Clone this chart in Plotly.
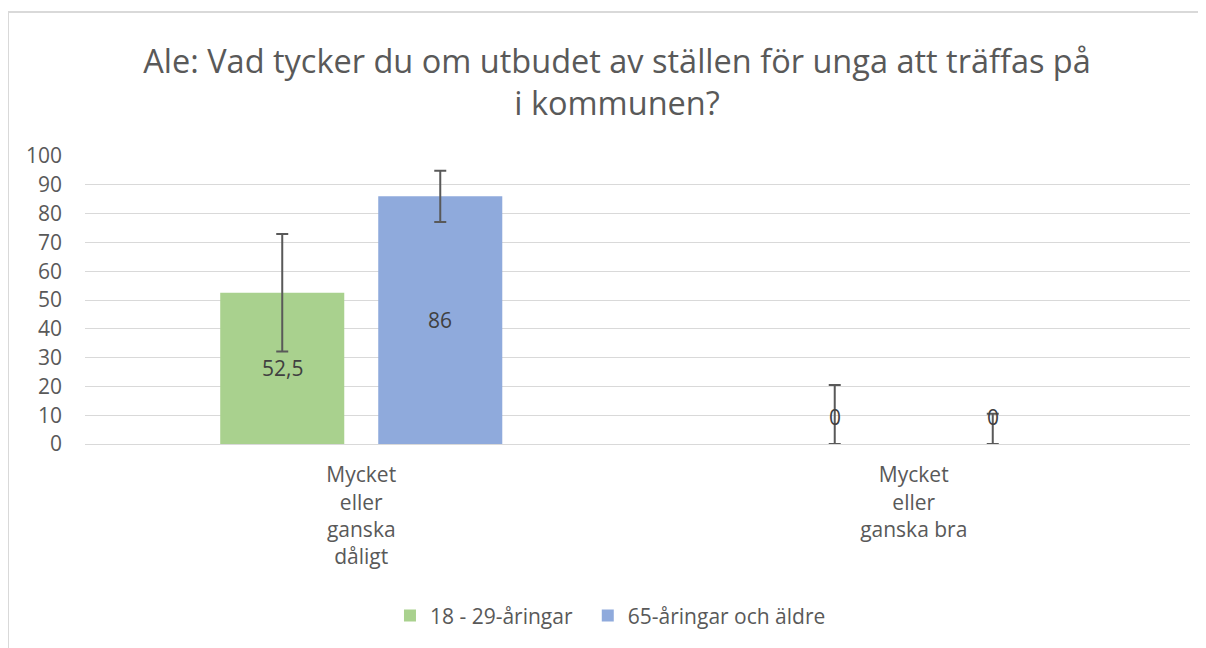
import plotly.graph_objects as go

categories = ["Mycket<br>eller<br>ganska<br>dåligt", "Mycket<br>eller<br>ganska bra"]
series_names = ["18 - 29-åringar", "65-åringar och äldre"]
young_values = [52.5, 0]
old_values = [86, 0]
young_err_plus = [20.4, 20.5]
young_err_minus = [20.4, 0]
old_err_plus = [8.9, 10.5]
old_err_minus = [8.9, 0]
young_labels = ["52,5", "0"]
old_labels = ["86", "0"]
y_ticks = [0, 10, 20, 30, 40, 50, 60, 70, 80, 90, 100]

FONT = "Open Sans, sans-serif"
TXT = "#595959"

fig = go.Figure()
series = [
    (series_names[0], young_values, young_err_plus, young_err_minus, "#A9D18E", "legend"),
    (series_names[1], old_values, old_err_plus, old_err_minus, "#8FAADC", "legend2"),
]
for name, vals, ep, em, col, lg in series:
    fig.add_trace(go.Bar(
        name=name, x=categories, y=vals, marker=dict(color=col, line=dict(width=0)),
        legend=lg,
        error_y=dict(type="data", array=ep, arrayminus=em, symmetric=False,
                     color="#595959", thickness=2, width=6),
    ))

# data labels
offsets = [-79, 79]
for off, vals, labs in [(offsets[0], young_values, young_labels), (offsets[1], old_values, old_labels)]:
    for cat, v, lab in zip(categories, vals, labs):
        fig.add_annotation(
            x=cat, y=v / 2 if v > 0 else 0, xshift=off, yshift=0 if v > 0 else 27,
            text=lab, showarrow=False, font=dict(family=FONT, size=21, color="#404040"),
        )

fig.add_shape(type="rect", xref="paper", yref="paper", x0=-0.0697, x1=1.05, y0=-0.8, y1=1.5,
              line=dict(color="#d9d9d9", width=2), fillcolor="rgba(0,0,0,0)", layer="below")

legend_common = dict(orientation="h", xanchor="left", y=-0.597, yanchor="middle",
                     font=dict(family=FONT, size=21, color=TXT), itemwidth=30,
                     bgcolor="rgba(0,0,0,0)")

fig.update_layout(
    width=1206, height=648,
    margin=dict(l=77, r=24, t=148, b=212),
    paper_bgcolor="white", plot_bgcolor="white",
    barmode="group", bargap=0.428, bargroupgap=0.215,
    title=dict(
        text="Ale: Vad tycker du om utbudet av ställen för unga att träffas på<br>i kommunen?",
        x=0.505, xanchor="center", y=0.9, yanchor="middle",
        font=dict(family=FONT, size=32.5, color=TXT),
    ),
    font=dict(family=FONT, size=21, color=TXT),
    showlegend=True,
    legend=dict(x=0.276, **legend_common),
    legend2=dict(x=0.455, **legend_common),
    xaxis=dict(showgrid=False, showline=True, linecolor="#d9d9d9", linewidth=1,
               tickfont=dict(family=FONT, size=21, color=TXT), ticks="", ticklabelstandoff=12),
    yaxis=dict(range=[0, 100], tickvals=y_ticks, showgrid=True, gridcolor="#d9d9d9", gridwidth=1,
               zeroline=False, showline=False, ticks="", ticklabelstandoff=22,
               tickfont=dict(family=FONT, size=21, color=TXT)),
)

fig.write_html("out.html")
